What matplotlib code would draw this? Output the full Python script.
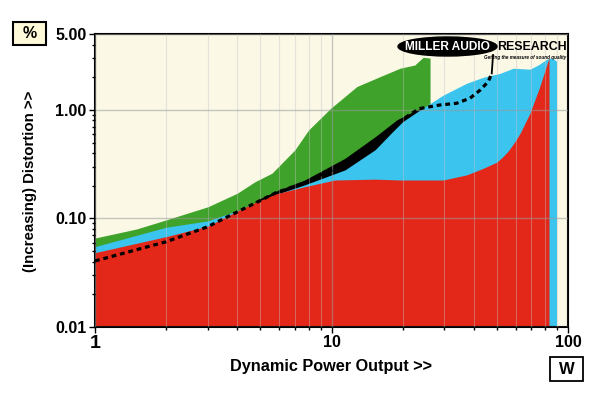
import matplotlib
matplotlib.use("Agg")
import matplotlib.pyplot as plt
import matplotlib.ticker as ticker
from matplotlib.patches import Ellipse, Rectangle

plt.rcParams['font.family'] = ['Liberation Sans', 'DejaVu Sans']
plt.rcParams['font.weight'] = 'bold'

# distortion envelopes, % vs dynamic power (W)
green_w = [1, 1.5, 2, 3, 4, 4.75, 5.6, 7.0, 8.0, 9.9, 12.8, 16, 19.5, 22.5, 24.4, 26.1]
green_top = [0.066, 0.080, 0.097, 0.128, 0.171, 0.218, 0.261, 0.428, 0.653, 1.03,
             1.64, 2.02, 2.42, 2.59, 3.05, 3.0]

black_w = [4.75, 5.8, 7.7, 11.4, 15.3, 18.9, 22.9, 24.4]
black_top = [0.145, 0.178, 0.226, 0.358, 0.566, 0.81, 1.0, 1.06]

blue_w = [1, 2, 3, 4, 5.8, 7.7, 11.4, 15.3, 18, 20, 23.7, 29.7, 37.3, 43.9,
          51.6, 58.7, 69, 75, 81.3, 84, 87, 89.4]
blue_top = [0.055, 0.083, 0.095, 0.118, 0.166, 0.204, 0.28, 0.43, 0.62, 0.78, 1.0,
            1.37, 1.76, 2.0, 2.17, 2.42, 2.37, 2.6, 2.92, 3.0, 2.95, 2.8]

red_w = [1, 2, 3, 4, 4.75, 5.8, 7.7, 10.35, 15.3, 19.5, 29.7, 37.3, 43.9, 50, 53,
         56, 60, 63, 69, 76, 82.6, 83.1]
red_top = [0.0484, 0.068, 0.085, 0.117, 0.140, 0.168, 0.196, 0.226, 0.230, 0.226,
           0.226, 0.252, 0.29, 0.33, 0.37, 0.42, 0.52, 0.62, 0.93, 1.64, 2.89, 3.05]

dot_w = [1, 2, 3, 4, 4.9, 5.8, 7.7, 11.4, 15.3, 18.9, 22, 23.7, 28.8, 33.8, 38.5,
         42.5, 46, 47.6]
dot_v = [0.0406, 0.061, 0.084, 0.115, 0.143, 0.172, 0.213, 0.32, 0.49, 0.75, 0.94,
         1.03, 1.11, 1.15, 1.28, 1.52, 1.82, 2.17]

# pointer from the logo down to the dotted trace
pointer_w = [47.6, 48.2]
pointer_v = [2.17, 3.2]

y_ticks = [0.01, 0.1, 1.0, 5.0]
y_labels = ["0.01", "0.10", "1.00", "5.00"]
x_ticks = [1, 10, 100]
x_labels = ["1", "10", "100"]

GREEN = "#3fa22a"
BLUE = "#3ac4ee"
RED = "#e32718"
CREAM = "#fbf8e6"

fig = plt.figure(figsize=(6, 3.93), dpi=100)
ax = fig.add_axes([95 / 600, 1 - 327 / 393, 473 / 600, 293 / 393])
ax.set_facecolor(CREAM)
ax.set_xscale("log")
ax.set_yscale("log")
ax.set_xlim(1, 100)
ax.set_ylim(0.01, 5)

base = 0.001
ax.fill_between(green_w, green_top, base, color=GREEN, lw=0, zorder=1)
ax.fill_between(black_w, black_top, base, color="black", lw=0, zorder=1.1)
ax.fill_between(blue_w, blue_top, base, color=BLUE, lw=0, zorder=1.2)
ax.fill_between(red_w, red_top, base, color=RED, lw=0, zorder=1.3)
ax.plot(dot_w, dot_v, color="black", lw=2.3, linestyle=(0, (1.5, 1.2)),
        dash_capstyle="butt", zorder=3)
ax.plot(pointer_w, pointer_v, color="black", lw=1.3, zorder=3, clip_on=False)

ax.set_axisbelow(False)
ax.xaxis.set_major_locator(ticker.FixedLocator(x_ticks))
ax.xaxis.set_major_formatter(ticker.FixedFormatter(x_labels))
ax.xaxis.set_minor_locator(ticker.LogLocator(base=10, subs=range(2, 10)))
ax.xaxis.set_minor_formatter(ticker.NullFormatter())
ax.yaxis.set_major_locator(ticker.FixedLocator(y_ticks))
ax.yaxis.set_major_formatter(ticker.FixedFormatter(y_labels))
ax.yaxis.set_minor_locator(ticker.LogLocator(base=10, subs=range(2, 10)))
ax.yaxis.set_minor_formatter(ticker.NullFormatter())

ax.grid(True, which="minor", axis="x", color="#c4c4c4", alpha=0.4, lw=0.8)
ax.grid(True, which="major", axis="both", color="#9a9a9a", alpha=0.55, lw=1.0)

ax.tick_params(which="major", direction="out", length=4, width=1, pad=2,
               labelsize=11.5)
ax.tick_params(which="minor", direction="out", length=2.5, width=1)
for lab in ax.get_xticklabels() + ax.get_yticklabels():
    lab.set_fontweight("bold")
ax.get_xticklabels()[0].set_fontsize(14)
for s in ax.spines.values():
    s.set_linewidth(1.5)

fig.text(331.5 / 600, 1 - 367 / 393, "Dynamic Power Output >>", ha="center",
         va="center", fontsize=11.7, fontweight="bold")
fig.text(30 / 600, 1 - 181 / 393, "(Increasing) Distortion >>", ha="center",
         va="center", rotation=90, fontsize=10.8, fontweight="bold")

# unit boxes
fig.add_artist(Rectangle((13 / 600, 1 - 45 / 393), 33 / 600, 23 / 393,
                         transform=fig.transFigure, fc="#fdf9d9", ec="black", lw=1.5))
fig.text(29.5 / 600, 1 - 33.5 / 393, "%", ha="center", va="center",
         fontsize=11.5, fontweight="bold")
fig.add_artist(Rectangle((550 / 600, 1 - 381 / 393), 33 / 600, 24 / 393,
                         transform=fig.transFigure, fc="white", ec="black", lw=1.3))
fig.text(566.5 / 600, 1 - 369 / 393, "W", ha="center", va="center",
         fontsize=12, fontweight="bold")

# logo
fig.add_artist(Ellipse((447.5 / 600, 1 - 46.5 / 393), 99 / 600, 19 / 393,
                       transform=fig.transFigure, color="black", zorder=10))
fig.text(447 / 600, 1 - 47 / 393, "MILLER AUDIO", color="white", ha="center",
         va="center", fontsize=8.6, fontweight="bold", zorder=11)
fig.text(497 / 600, 1 - 47 / 393, "RESEARCH", color="black", ha="left",
         va="center", fontsize=8.9, fontweight="bold", zorder=11)
fig.text(566 / 600, 1 - 57 / 393, "Getting the measure of sound quality",
         color="black", ha="right", va="center", fontsize=3.3,
         fontweight="bold", style="italic", zorder=11)

fig.savefig("out.png", dpi=100, facecolor="white")
